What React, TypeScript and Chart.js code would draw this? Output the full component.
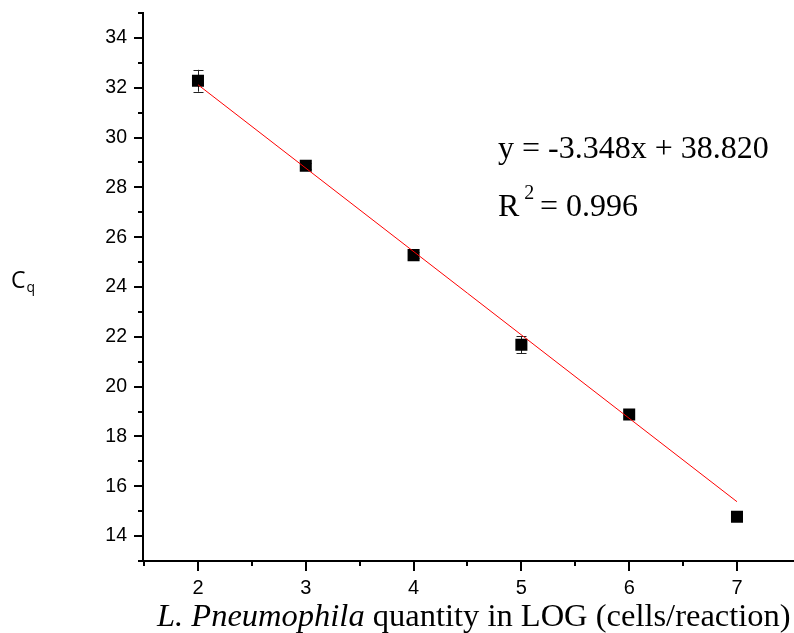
import React, { useEffect, useRef } from "react";
import { Chart, registerables } from "chart.js";

Chart.register(...registerables);

// ---- data ----
const xValues = [2, 3, 4, 5, 6, 7];
const cqValues = [32.28, 28.87, 25.28, 21.68, 18.88, 14.78];
const cqErrors = [0.44, 0.12, 0.12, 0.34, 0.12, 0.08];
const fitX = [2, 7];
const fitY = [32.12, 15.38];
const xMajorTicks = [2, 3, 4, 5, 6, 7];
const xMinorTicks = [1.5, 2.5, 3.5, 4.5, 5.5, 6.5];
const yMajorTicks = [14, 16, 18, 20, 22, 24, 26, 28, 30, 32, 34];
const yMinorTicks = [13, 15, 17, 19, 21, 23, 25, 27, 29, 31, 33, 35];
const equationText = "y = -3.348x + 38.820";
const r2Label = "R";
const r2Sup = "2";
const r2Value = "= 0.996";
const xTitleItalic = "L. Pneumophila";
const xTitleRest = " quantity in LOG (cells/reaction)";
const yTitleMain = "C";
const yTitleSub = "q";

const SANS = "'Liberation Sans', Arial, sans-serif";
const SERIF = "'Liberation Serif', 'Times New Roman', serif";

const decorPlugin = {
  id: "decor",
  beforeDatasetsDraw(chart: any) {
    const ctx = chart.ctx;
    const xs = chart.scales.x;
    const ys = chart.scales.y;
    ctx.save();
    ctx.strokeStyle = "#222";
    ctx.lineWidth = 1;
    xValues.forEach((xv, i) => {
      const px = Math.round(xs.getPixelForValue(xv)) + 0.5;
      const top = ys.getPixelForValue(cqValues[i] + cqErrors[i]);
      const bot = ys.getPixelForValue(cqValues[i] - cqErrors[i]);
      ctx.beginPath();
      ctx.moveTo(px, top);
      ctx.lineTo(px, bot);
      ctx.moveTo(px - 5, Math.round(top) + 0.5);
      ctx.lineTo(px + 5, Math.round(top) + 0.5);
      ctx.moveTo(px - 5, Math.round(bot) + 0.5);
      ctx.lineTo(px + 5, Math.round(bot) + 0.5);
      ctx.stroke();
    });
    ctx.restore();
  },
  afterDraw(chart: any) {
    const ctx = chart.ctx;
    const xs = chart.scales.x;
    const ys = chart.scales.y;
    const area = chart.chartArea;
    ctx.save();
    ctx.strokeStyle = "#000";
    ctx.lineWidth = 2;
    const y0 = area.bottom;
    const x0 = area.left;
    ctx.beginPath();
    ctx.moveTo(x0 - 3, y0);
    ctx.lineTo(chart.width + 10, y0);
    ctx.moveTo(x0, y0 + 1);
    ctx.lineTo(x0, ys.getPixelForValue(35) - 1);
    ctx.stroke();
    ctx.beginPath();
    xMajorTicks.forEach((v) => {
      const p = Math.round(xs.getPixelForValue(v));
      ctx.moveTo(p, y0);
      ctx.lineTo(p, y0 + 10);
    });
    xMinorTicks.forEach((v) => {
      const p = Math.round(xs.getPixelForValue(v));
      ctx.moveTo(p, y0);
      ctx.lineTo(p, y0 + 5);
    });
    yMajorTicks.forEach((v) => {
      const p = Math.round(ys.getPixelForValue(v));
      ctx.moveTo(x0, p);
      ctx.lineTo(x0 - 9, p);
    });
    yMinorTicks.forEach((v) => {
      const p = Math.round(ys.getPixelForValue(v));
      ctx.moveTo(x0, p);
      ctx.lineTo(x0 - 5, p);
    });
    ctx.stroke();

    ctx.fillStyle = "#000";
    ctx.textBaseline = "alphabetic";
    ctx.textAlign = "left";
    // x title
    ctx.font = `italic 32.5px ${SERIF}`;
    const w1 = ctx.measureText(xTitleItalic).width;
    ctx.fillText(xTitleItalic, 157, 626);
    ctx.font = `32.5px ${SERIF}`;
    ctx.fillText(xTitleRest, 157 + w1, 626);
    // y title
    ctx.font = `23px 'Open Sans', 'Noto Sans', sans-serif`;
    ctx.fillText(yTitleMain, 11, 288);
    const wc = ctx.measureText(yTitleMain).width;
    ctx.font = `14px 'Open Sans', 'Noto Sans', sans-serif`;
    ctx.fillText(yTitleSub, 11 + wc + 1, 292);
    // equation
    ctx.font = `32px ${SERIF}`;
    ctx.fillText(equationText, 498, 158);
    ctx.fillText(r2Label, 498, 216);
    const wr = ctx.measureText(r2Label).width;
    ctx.font = `20px ${SERIF}`;
    ctx.fillText(r2Sup, 498 + wr + 5, 199);
    ctx.font = `32px ${SERIF}`;
    ctx.fillText(r2Value, 540, 216);
    ctx.restore();
  },
};

export default function App() {
  const ref = useRef<HTMLCanvasElement | null>(null);
  useEffect(() => {
    if (!ref.current) return;
    const chart = new Chart(ref.current, {
      type: "scatter",
      data: {
        datasets: [
          {
            type: "line",
            label: "fit",
            data: fitX.map((x, i) => ({ x, y: fitY[i] })),
            borderColor: "#ff0000",
            borderWidth: 1,
            pointRadius: 0,
            fill: false,
          },
          {
            type: "scatter",
            label: "Cq",
            data: xValues.map((x, i) => ({ x, y: cqValues[i] })),
            pointStyle: "rect",
            pointRadius: 8.5,
            pointHoverRadius: 8.5,
            backgroundColor: "#000",
            borderColor: "#000",
            borderWidth: 0,
          },
        ],
      },
      options: {
        responsive: false,
        animation: false,
        events: [],
        layout: { padding: { top: 13, left: 0, right: 0, bottom: 0 } },
        plugins: {
          legend: { display: false },
          tooltip: { enabled: false },
          title: { display: false },
        },
        scales: {
          x: {
            type: "linear",
            position: "bottom",
            min: 1.49,
            max: 7.45,
            grid: { display: false, drawTicks: false },
            border: { display: false },
            ticks: {
              color: "#000",
              font: { family: SANS, size: 20 },
              padding: 15,
              maxRotation: 0,
              callback: (v: any) => String(v),
            },
            afterBuildTicks: (s: any) => {
              s.ticks = xMajorTicks.map((v) => ({ value: v }));
            },
            afterFit: (s: any) => {
              s.height = 72;
              s.paddingLeft = 0;
              s.paddingRight = 0;
            },
          },
          y: {
            type: "linear",
            min: 13,
            max: 35,
            grid: { display: false, drawTicks: false },
            border: { display: false },
            ticks: {
              color: "#000",
              font: { family: SANS, size: 19.5 },
              padding: 16,
              callback: (v: any) => String(v),
            },
            afterBuildTicks: (s: any) => {
              s.ticks = yMajorTicks.map((v) => ({ value: v }));
            },
            afterFit: (s: any) => {
              s.width = 143;
              s.paddingTop = 0;
              s.paddingBottom = 0;
            },
          },
        },
      },
      plugins: [decorPlugin],
    });
    return () => chart.destroy();
  }, []);
  return (
    <div style={{ position: "fixed", left: 0, top: 0, width: 794, height: 633, background: "#fff" }}>
      <canvas ref={ref} width={794} height={633} style={{ display: "block" }} />
    </div>
  );
}
